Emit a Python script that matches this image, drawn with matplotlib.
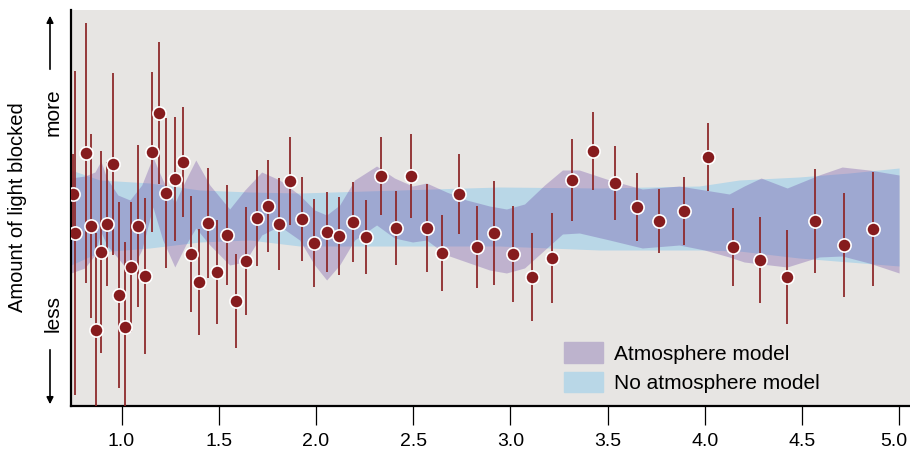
import matplotlib
matplotlib.use("Agg")
import matplotlib.pyplot as plt
import matplotlib.transforms as mtransforms
from matplotlib.patches import Patch

plt.rcParams['font.family'] = ['Liberation Sans', 'DejaVu Sans']

# wavelength (microns) of each measured point, relative depth and half error
wavelength = [0.750, 0.762, 0.815, 0.841, 0.868, 0.895, 0.926, 0.954, 0.985, 1.017,
              1.049, 1.084, 1.121, 1.159, 1.192, 1.231, 1.274, 1.315, 1.356, 1.399,
              1.447, 1.491, 1.541, 1.589, 1.642, 1.697, 1.753, 1.810, 1.866, 1.927,
              1.990, 2.055, 2.120, 2.192, 2.259, 2.336, 2.410, 2.487, 2.569, 2.651,
              2.737, 2.827, 2.918, 3.012, 3.110, 3.215, 3.316, 3.423, 3.536, 3.650,
              3.766, 3.891, 4.018, 4.148, 4.285, 4.422, 4.566, 4.717, 4.867]
depth = [212, 173, 253, 180, 76, 154, 182, 242, 111, 79,
         139, 180, 130, 254, 293, 213, 227, 244, 152, 124,
         183, 134, 171, 105, 145, 188, 200, 182, 225, 187,
         163, 174, 170, 184, 169, 230, 178, 230, 178, 153,
         212, 159, 173, 152, 129, 148, 226, 255, 223, 199,
         185, 195, 249, 159, 146, 129, 185, 161, 177]
depth_err = [40, 162, 130, 92, 97, 101, 62, 91, 93, 85,
             65, 81, 78, 80, 71, 75, 62, 55, 58, 53,
             55, 52, 50, 47, 54, 48, 46, 46, 44, 42,
             44, 40, 39, 40, 37, 39, 37, 42, 44, 38,
             40, 41, 52, 48, 44, 45, 41, 39, 37, 34,
             32, 34, 34, 39, 43, 47, 52, 52, 57]

# atmosphere model band
atm_x = [0.740, 0.811, 0.863, 0.894, 0.924, 0.981, 1.043, 1.104, 1.161, 1.212,
         1.274, 1.330, 1.382, 1.454, 1.556, 1.634, 1.721, 1.813, 1.916, 1.993,
         2.055, 2.122, 2.199, 2.312, 2.404, 2.497, 2.569, 2.672, 2.775, 2.893,
         2.980, 3.073, 3.176, 3.268, 3.355, 3.510, 3.679, 3.869, 3.998, 4.126,
         4.203, 4.290, 4.424, 4.588, 4.707, 4.845, 5.000]
atm_hi = [228, 230, 234, 245, 228, 211, 206, 221, 249, 226,
          203, 226, 246, 221, 197, 216, 234, 226, 211, 196,
          191, 201, 226, 240, 228, 220, 223, 214, 206, 200,
          197, 202, 221, 236, 236, 226, 217, 220, 216, 212,
          220, 228, 218, 231, 239, 236, 231]
atm_lo = [133, 138, 151, 174, 161, 148, 133, 156, 199, 166,
          139, 161, 178, 161, 141, 144, 171, 180, 166, 141,
          126, 141, 166, 181, 168, 164, 166, 151, 144, 136,
          133, 138, 156, 172, 173, 166, 158, 161, 156, 149,
          144, 142, 139, 149, 150, 143, 133]

# no atmosphere model band
flat_x = [0.740, 0.888, 1.145, 1.402, 1.659, 1.916, 2.430, 2.944, 3.458, 3.972,
          4.177, 4.485, 4.742, 5.000]
flat_hi = [236, 226, 223, 216, 214, 213, 216, 219, 218, 220, 226, 229, 233, 238]
flat_lo = [141, 154, 158, 164, 166, 160, 160, 160, 156, 156, 155, 148, 144, 140]

ticks = [1.0, 1.5, 2.0, 2.5, 3.0, 3.5, 4.0, 4.5, 5.0]

fig = plt.figure(figsize=(9.1, 4.53), dpi=100)
ax = fig.add_axes([71 / 910, 47 / 453, 839 / 910, 396 / 453])
ax.set_facecolor('#e7e5e3')

ax.fill_between(flat_x, flat_lo, flat_hi, color='#b9d7e7', lw=0, zorder=1)
ax.fill_between(atm_x, atm_lo, atm_hi, color='#562c99', alpha=0.27, lw=0, zorder=2)

ax.errorbar(wavelength, depth, yerr=depth_err, fmt='o', ms=9.5,
            mfc='#861c1e', mec='white', mew=1.2,
            ecolor='#8e2a2c', elinewidth=1.3, capsize=0, zorder=3)

ax.set_xlim(0.74, 5.056)
ax.set_ylim(0, 396)
ax.set_yticks([])
ax.set_xticks(ticks)
ax.set_xticklabels([f'{t:.1f}' for t in ticks])
ax.tick_params(axis='x', length=13.5, width=0.9, pad=6, labelsize=14)
for s in ['top', 'right']:
    ax.spines[s].set_visible(False)
for s in ['left', 'bottom']:
    ax.spines[s].set_linewidth(1.6)

# last label sits at the figure edge, nudge it in a little
last = ax.get_xticklabels()[-1]
last.set_transform(last.get_transform() + mtransforms.ScaledTranslation(-5 / 100, 0, fig.dpi_scale_trans))

handles = [Patch(color='#bdb3cd', label='Atmosphere model'),
           Patch(color='#b9d7e7', label='No atmosphere model')]
ax.legend(handles=handles, loc='lower left', bbox_to_anchor=(0.588, 0.033),
          frameon=False, fontsize=15, handlelength=1.87, handleheight=1.15,
          handletextpad=0.53, labelspacing=0.38, borderpad=0, borderaxespad=0)

# y axis label with more/less arrows
fig.text(18 / 910, 1 - 207 / 453, 'Amount of light blocked', rotation=90,
         ha='center', va='center', fontsize=14.5)
fig.text(53 / 910, 1 - 112 / 453, 'more', rotation=90, ha='center', va='center', fontsize=15)
fig.text(53 / 910, 1 - 314 / 453, 'less', rotation=90, ha='center', va='center', fontsize=15)
ax.annotate('', xy=(50 / 910, 1 - 13 / 453), xytext=(50 / 910, 1 - 72 / 453),
            xycoords='figure fraction', textcoords='figure fraction',
            arrowprops=dict(arrowstyle='-|>', color='black', lw=1.2, mutation_scale=10))
ax.annotate('', xy=(50 / 910, 1 - 407 / 453), xytext=(50 / 910, 1 - 347 / 453),
            xycoords='figure fraction', textcoords='figure fraction',
            arrowprops=dict(arrowstyle='-|>', color='black', lw=1.2, mutation_scale=10))

fig.savefig('out.png', dpi=100)
